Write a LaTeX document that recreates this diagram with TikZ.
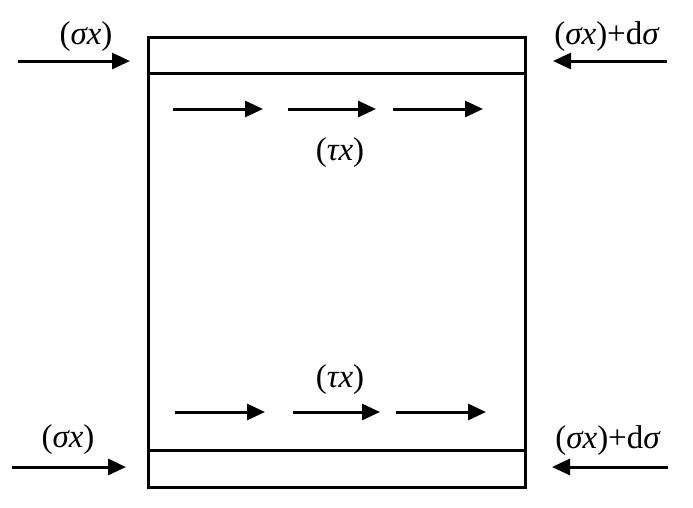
\documentclass[tikz,border=0pt]{standalone}
\usepackage{fontspec}
\setmainfont{Liberation Serif}
\usetikzlibrary{arrows.meta}

\begin{document}
\begin{tikzpicture}[x=1pt,y=-1pt,line width=3pt,
  force/.style={-{Triangle[length=18pt,width=16pt]}},
  lbl/.style={font=\fontsize{33}{38}\selectfont,inner sep=0pt}]
\useasboundingbox (0,0) rectangle (693,507);

\coordinate (1) at (148,37);
\coordinate (2) at (525,37);
\coordinate (3) at (525,487);
\coordinate (4) at (148,487);
\coordinate (5) at (148,73);
\coordinate (6) at (525,73);
\coordinate (7) at (148,450);
\coordinate (8) at (525,450);

\draw (1)--(2)--(3)--(4)--cycle;
\draw (5)--(6);
\draw (7)--(8);

% normal forces
\coordinate (la) at (18,61);
\coordinate (lb) at (130,61);
\coordinate (ra) at (667,61);
\coordinate (rb) at (553,61);
\coordinate (lc) at (12,467);
\coordinate (ld) at (126,467);
\coordinate (rc) at (668,467);
\coordinate (rd) at (552,467);

\draw[force] (la)--(lb);
\draw[force] (ra)--(rb);
\draw[force] (lc)--(ld);
\draw[force] (rc)--(rd);

% shear
\foreach \a/\b [count=\i] in {173/263,288/376,393/483}
{
\coordinate (ts\i) at (\a,109);
\coordinate (te\i) at (\b,109);
\draw[force] (ts\i)--(te\i);
}
\foreach \a/\b [count=\i] in {175/265,293/380,396/486}
{
\coordinate (bs\i) at (\a,412);
\coordinate (be\i) at (\b,412);
\draw[force] (bs\i)--(be\i);
}

\node[lbl] (sl) at (86,37) {(\textit{σx})};
\node[lbl] (sr) at (607,37) {(\textit{σx})+d\textit{σ}};
\node[lbl] (bl) at (68,440) {(\textit{σx})};
\node[lbl] (br) at (608,441) {(\textit{σx})+d\textit{σ}};
\node[lbl] (tt) at (340,153) {(\textit{τx})};
\node[lbl] (tb) at (340,380) {(\textit{τx})};
\end{tikzpicture}
\end{document}
